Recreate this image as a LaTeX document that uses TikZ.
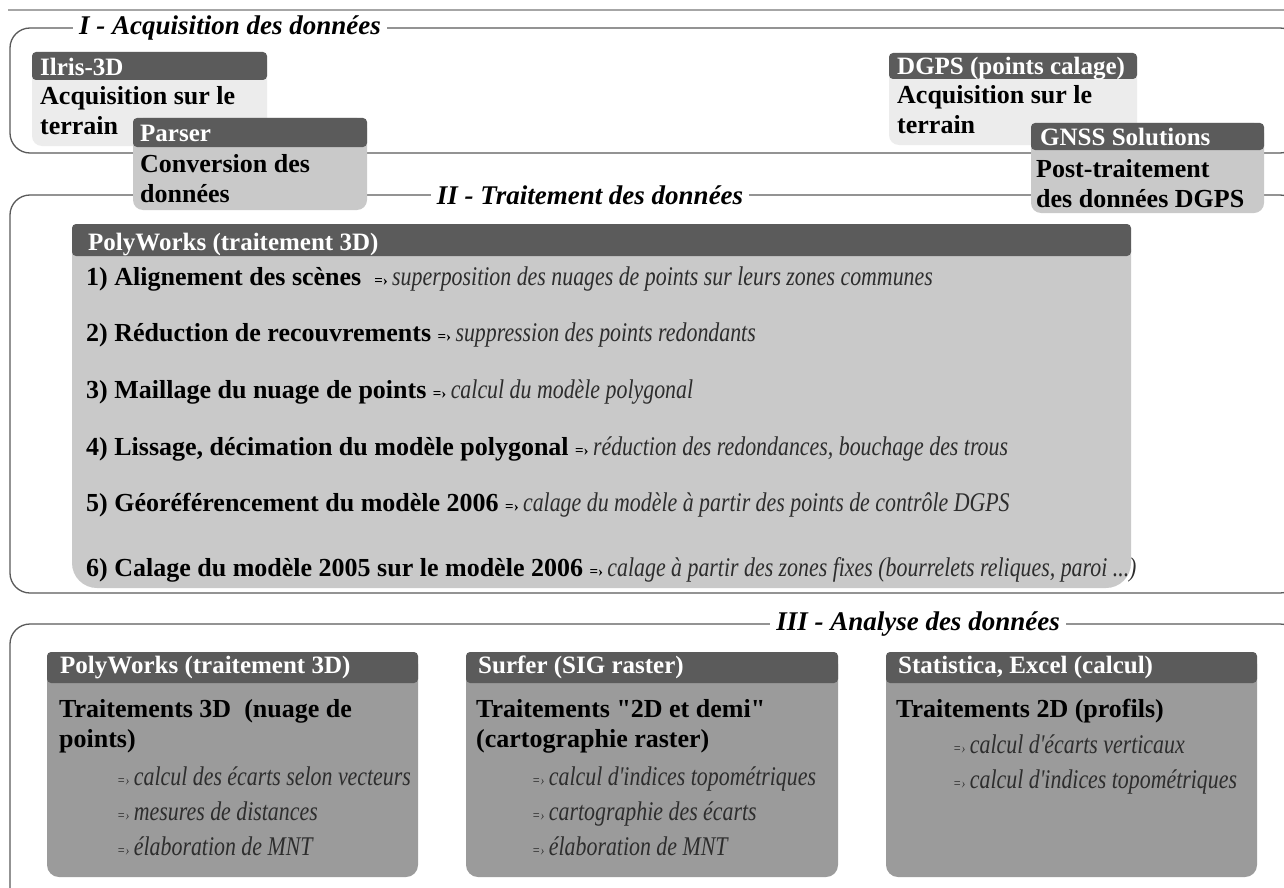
\documentclass[tikz,border=0pt]{standalone}
\usepackage{fontspec}
\setmainfont{Liberation Serif}
\newfontfamily\narrowit[FakeStretch=0.81]{Liberation Serif}
\definecolor{headC}{RGB}{91,91,91}
\definecolor{paleC}{RGB}{236,236,236}
\definecolor{midC}{RGB}{201,201,201}
\definecolor{darkC}{RGB}{155,155,155}
\definecolor{frameC}{RGB}{90,90,90}
\definecolor{noteC}{RGB}{45,45,45}
\newcommand{\thento}{{\fontsize{15}{15}\selectfont =›}\,}
\tikzset{
  frame/.style={draw=frameC, line width=1.3pt, rounded corners=20pt},
  ttl/.style={fill=white, inner xsep=6pt, inner ysep=2pt, font=\fontsize{27}{30}\selectfont\bfseries\itshape},
  head/.style={fill=headC, rounded corners=4pt},
  hdtxt/.style={anchor=base west, inner sep=0pt, text=white, font=\fontsize{25}{28}\selectfont\bfseries},
  bdtxt/.style={anchor=base west, inner sep=0pt, align=left, font=\fontsize{26}{30}\selectfont\bfseries},
  item/.style={anchor=base west, inner sep=0pt, font=\fontsize{26}{30}\selectfont\bfseries},
  note/.style={anchor=base west, inner sep=0pt, text=noteC, font=\narrowit\fontsize{27}{35}\selectfont\itshape},
}
\newcommand{\nt}[1]{{\mdseries\color{noteC}\narrowit\fontsize{27}{30}\selectfont\itshape #1}}

\begin{document}
\begin{tikzpicture}[x=1pt, y=-1pt]
  \clip (0,0) rectangle (1284,888);
  \fill[white] (0,0) rectangle (1284,888);
  \draw[gray!70, line width=2pt] (8,10) -- (1284,10);

  % the three stages
  \draw[frame] (10,28) rectangle (1300,153);
  \draw[frame] (10,195) rectangle (1300,593);
  \draw[frame] (10,624) rectangle (1300,920);
  \node[ttl] (acq) at (230,28) {I - Acquisition des données};
  \node[ttl] (trt) at (590,195) {II - Traitement des données};
  \node[ttl] (ana) at (918,624) {III - Analyse des données};

  % I - acquisition (base = last line)
  \fill[paleC, rounded corners=10pt] (32,52) rectangle (267,146);
  \fill[head] (32,52) rectangle (267,80);
  \node[hdtxt] (ilrisH) at (40,76) {Ilris-3D};
  \node[bdtxt] (ilrisB) at (40,135) {Acquisition sur le\\terrain};

  \fill[midC, rounded corners=10pt] (133,118) rectangle (367,210);
  \fill[head] (133,118) rectangle (367,147);
  \node[hdtxt] (parserH) at (140,142) {Parser};
  \node[bdtxt] (parserB) at (140,202) {Conversion des\\données};

  \fill[paleC, rounded corners=10pt] (889,53) rectangle (1137,145);
  \fill[head] (889,53) rectangle (1137,79);
  \node[hdtxt] (dgpsH) at (897,75) {DGPS (points calage)};
  \node[bdtxt] (dgpsB) at (897,133) {Acquisition sur le\\terrain};

  \fill[midC, rounded corners=10pt] (1031,123) rectangle (1264,213);
  \fill[head] (1031,123) rectangle (1264,150);
  \node[hdtxt] (gnssH) at (1040,146) {GNSS Solutions};
  \node[bdtxt] (gnssB) at (1036,207) {Post-traitement\\des données DGPS};

  % II - traitement
  \fill[midC, rounded corners=25pt] (72,224) rectangle (1131,588);
  \fill[head] (72,224) rectangle (1131,256);
  \node[hdtxt] (polyH) at (88,250) {PolyWorks (traitement 3D)};
  \node[item] (s1) at (86,285) {1) Alignement des scènes \ \thento\nt{superposition des nuages de points sur leurs zones communes}};
  \node[item] (s2) at (86,341) {2) Réduction de recouvrements \thento\nt{suppression des points redondants}};
  \node[item] (s3) at (86,398) {3) Maillage du nuage de points \thento\nt{calcul du modèle polygonal}};
  \node[item] (s4) at (86,455) {4) Lissage, décimation du modèle polygonal \thento\nt{réduction des redondances, bouchage des trous}};
  \node[item] (s5) at (86,511) {5) Géoréférencement du modèle 2006 \thento\nt{calage du modèle à partir des points de contrôle DGPS}};
  \node[item] (s6) at (86,576) {6) Calage du modèle 2005 sur le modèle 2006 \thento\nt{calage à partir des zones fixes (bourrelets reliques, paroi ...)}};

  % III - analyse
  \fill[darkC, rounded corners=12pt] (47,652) rectangle (418,877);
  \fill[head] (47,652) rectangle (418,683);
  \node[hdtxt] (pw3H) at (60,673) {PolyWorks (traitement 3D)};
  \node[bdtxt] (pw3B) at (59,747) {Traitements 3D\ \ (nuage de\\points)};
  \node[note] (pw3N) at (117,785) {\thento calcul des écarts selon vecteurs};
  \node[note] (pw3M) at (117,820) {\thento mesures de distances};
  \node[note] (pw3E) at (117,855) {\thento élaboration de MNT};

  \fill[darkC, rounded corners=12pt] (466,652) rectangle (838,877);
  \fill[head] (466,652) rectangle (838,683);
  \node[hdtxt] (surfH) at (478,673) {Surfer (SIG raster)};
  \node[bdtxt] (surfB) at (476,747) {Traitements \textquotedbl 2D et demi\textquotedbl\\(cartographie raster)};
  \node[note] (surfI) at (532,785) {\thento calcul d'indices topométriques};
  \node[note] (surfC) at (532,820) {\thento cartographie des écarts};
  \node[note] (surfE) at (532,855) {\thento élaboration de MNT};

  \fill[darkC, rounded corners=12pt] (886,652) rectangle (1257,877);
  \fill[head] (886,652) rectangle (1257,683);
  \node[hdtxt] (statH) at (898,673) {Statistica, Excel (calcul)};
  \node[bdtxt] (statB) at (896,717) {Traitements 2D (profils)};
  \node[note] (statV) at (953,753) {\thento calcul d'écarts verticaux};
  \node[note] (statI) at (953,788) {\thento calcul d'indices topométriques};
\end{tikzpicture}
\end{document}
